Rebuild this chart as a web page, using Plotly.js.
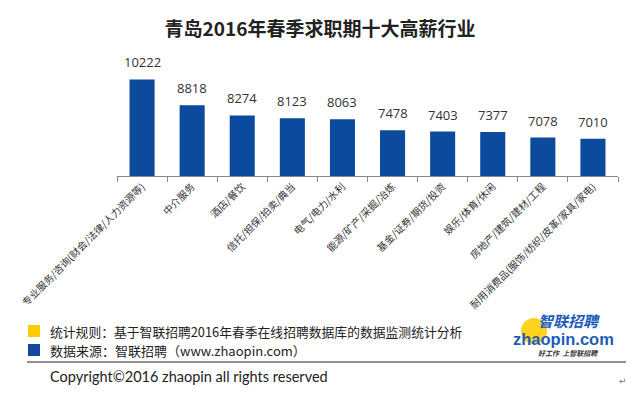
<!DOCTYPE html>
<html>
<head>
<meta charset="utf-8">
<script src="https://cdn.plot.ly/plotly-3.0.1.min.js"></script>
<style>html,body{margin:0;padding:0;background:#fff;}#chart{width:640px;height:398px;}</style>
</head>
<body>
<div id="chart"></div>
<script>
const categories = ["专业服务/咨询(财会/法律/人力资源等)", "中介服务", "酒店/餐饮", "信托/担保/拍卖/典当", "电气/电力/水利", "能源/矿产/采掘/冶炼", "基金/证券/期货/投资", "娱乐/体育/休闲", "房地产/建筑/建材/工程", "耐用消费品(服饰/纺织/皮革/家具/家电)"];
const salaries = [10222, 8818, 8274, 8123, 8063, 7478, 7403, 7377, 7078, 7010];
const titleText = "青岛2016年春季求职期十大高薪行业";
const noteText = "统计规则：基于智联招聘2016年春季在线招聘数据库的数据监测统计分析";
const sourceText = "数据来源：智联招聘（www.zhaopin.com）";
const copyrightText = "Copyright©2016 zhaopin all rights reserved";

const W = 640, H = 398;
const L = 117, R = 22, T = 65, B = 222;
const pw = W - L - R, ph = H - T - B;
const px = x => (x - L) / pw;
const py = y => (H - B - y) / ph;

const annotations = categories.map((c, i) => ({
  x: c, y: salaries[i], xref: 'x', yref: 'y', text: String(salaries[i]),
  showarrow: false, yanchor: 'bottom', yshift: 6,
  font: {family: 'Open Sans, sans-serif', size: 13, color: '#333'}
}));

const cjk = '"Noto Sans CJK SC", sans-serif';
annotations.push(
  {xref: 'paper', yref: 'paper', x: px(48), y: py(331), xanchor: 'left', yanchor: 'middle', text: noteText, showarrow: false, font: {family: cjk, size: 12.8, color: '#222'}},
  {xref: 'paper', yref: 'paper', x: px(48), y: py(350), xanchor: 'left', yanchor: 'middle', text: sourceText, showarrow: false, font: {family: cjk, size: 13, color: '#222'}},
  {xref: 'paper', yref: 'paper', x: px(48), y: py(377), xanchor: 'left', yanchor: 'middle', text: copyrightText, showarrow: false, font: {family: 'Lato, sans-serif', size: 14.5, color: '#222'}},
  {xref: 'paper', yref: 'paper', x: px(569), y: py(320), xanchor: 'center', yanchor: 'middle', text: '<b><i>智联招聘</i></b>', showarrow: false, font: {family: cjk, size: 15, color: '#1D5DB8'}},
  {xref: 'paper', yref: 'paper', x: px(563), y: py(339), xanchor: 'center', yanchor: 'middle', text: '<b>zhaopin.com</b>', showarrow: false, font: {family: 'Liberation Sans, sans-serif', size: 16.5, color: '#1D5DB8'}},
  {xref: 'paper', yref: 'paper', x: px(568), y: py(353), xanchor: 'center', yanchor: 'middle', text: '<b><i>好工作  上智联招聘</i></b>', showarrow: false, font: {family: cjk, size: 7, color: '#333'}},
  {xref: 'paper', yref: 'paper', x: px(623), y: py(381), xanchor: 'center', yanchor: 'middle', text: '↵', showarrow: false, font: {family: 'DejaVu Sans', size: 9, color: '#777'}}
);

const shapes = [
  {type: 'rect', xref: 'paper', yref: 'paper', x0: px(28), x1: px(40), y0: py(337), y1: py(325), fillcolor: '#FFCC00', line: {width: 0}},
  {type: 'rect', xref: 'paper', yref: 'paper', x0: px(28), x1: px(40), y0: py(356), y1: py(344), fillcolor: '#1548A0', line: {width: 0}},
  {type: 'line', xref: 'paper', yref: 'paper', x0: px(27), x1: px(626), y0: py(362), y1: py(362), line: {color: '#222', width: 1.2}},
  {type: 'circle', xref: 'paper', yref: 'paper', x0: px(521), x1: px(547), y0: py(344), y1: py(318), fillcolor: '#FFD21F', line: {width: 0}, layer: 'below'}
];

const data = [{
  type: 'bar', x: categories, y: salaries,
  marker: {color: '#0B4A9C'}, width: 0.5, hoverinfo: 'none'
}];

const layout = {
  width: W, height: H,
  margin: {l: L, r: R, t: T, b: B, autoexpand: false},
  paper_bgcolor: '#fff', plot_bgcolor: '#fff',
  title: {text: '<b>' + titleText + '</b>', x: 0.5, xref: 'container', xanchor: 'center', y: 1 - 29 / H, yref: 'container', yanchor: 'middle', font: {family: cjk, size: 19, color: '#222'}},
  xaxis: {
    type: 'category', tickangle: -45, automargin: false,
    showline: true, linecolor: '#888', linewidth: 1,
    ticks: 'outside', tickson: 'boundaries', ticklen: 5, tickcolor: '#888',
    tickfont: {family: cjk, size: 10, color: '#333'}, showgrid: false
  },
  yaxis: {range: [5000, 11000], visible: false, showgrid: false, zeroline: false},
  showlegend: false,
  annotations: annotations,
  shapes: shapes
};

Plotly.newPlot('chart', data, layout, {staticPlot: true, displayModeBar: false});
</script>
</body>
</html>
